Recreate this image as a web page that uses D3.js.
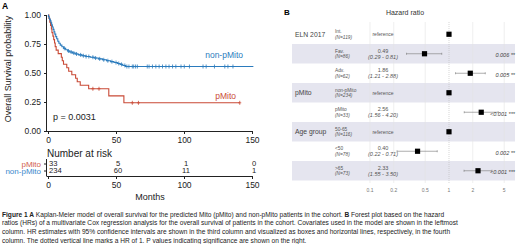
<!DOCTYPE html>
<html>
<head>
<meta charset="utf-8">
<script src="https://cdn.jsdelivr.net/npm/d3@7"></script>
<style>
body{margin:0;background:#fff;}
svg{display:block;font-family:Arial,"Liberation Sans",sans-serif;}
</style>
</head>
<body>
<script>
// Kaplan-Meier steps (months, survival)
const pMitoTime = [0, 0.7, 1.3, 1.9, 2.5, 2.9, 3.6, 4.2, 4.8, 5.3, 6.0, 7.5, 9.8, 10.5, 11.4, 13.8, 15.2, 17.5, 20.3, 21.5, 23.7, 29.9, 44.7, 55.8]
const pMitoSurv = [1, 0.970, 0.939, 0.909, 0.879, 0.848, 0.818, 0.788, 0.758, 0.727, 0.697, 0.667, 0.636, 0.606, 0.576, 0.545, 0.515, 0.485, 0.455, 0.424, 0.394, 0.364, 0.303, 0.243]
const pMitoCensor = [33, 37.5, 62, 66.5, 141]
const pMitoEnd = 141

const nonTime = [0, 0.3, 0.8, 1.2, 1.7, 2.2, 2.7, 3.2, 3.8, 4.4, 5.0, 5.7, 6.4, 7.2, 8.0, 9.0, 10.2, 11.5, 13, 14.5, 16, 18, 20, 22.5, 25, 28, 31, 34, 37, 40, 43, 46, 48.5, 51, 53, 55, 57]
const nonSurv = [1, 0.987, 0.974, 0.962, 0.949, 0.932, 0.915, 0.897, 0.876, 0.855, 0.835, 0.814, 0.795, 0.774, 0.756, 0.740, 0.726, 0.713, 0.700, 0.690, 0.681, 0.672, 0.664, 0.656, 0.649, 0.642, 0.636, 0.629, 0.622, 0.614, 0.606, 0.598, 0.590, 0.582, 0.574, 0.565, 0.556]
const nonCensor = [12, 15, 17, 19, 21, 24, 26, 28, 30, 33, 35, 38, 41, 44, 47, 50, 52, 54, 56.5, 58, 59.5, 62, 63, 64.4, 65.7, 73, 74.3, 76.8, 79.3, 81.7, 84.2, 86.7, 89, 91.6, 94, 97.8, 100.2, 104, 114, 116.3, 122.4, 130, 132.3, 136]
const nonEnd = 151

// number at risk
const riskTimes = [0, 50, 100, 150]
const riskPMito = [33, 5, 1, 0]
const riskNon = [234, 60, 11, 1]
const kmTicks = [0, 50, 100, 150]
const survTicks = [0, 0.25, 0.5, 0.75, 1]

// forest plot
const fVars = ['ELN 2017', '', '', 'pMito', '', 'Age group', '', '']
const fLevels = ['Int.', 'Fav.', 'Adv.', 'non-pMito', 'pMito', '50-65', '<50', '>65']
const fN = [119, 86, 62, 234, 33, 116, 78, 73]
const fHR = [1, 0.49, 1.86, 1, 2.56, 1, 0.40, 2.33]
const fLo = [null, 0.29, 1.21, null, 1.56, null, 0.22, 1.55]
const fHi = [null, 0.81, 2.88, null, 4.20, null, 0.71, 3.50]
const fP = ['', '0.006 **', '0.005 **', '', '<0.001 ***', '', '0.002 **', '<0.001 ***']
const hrTicks = [0.1, 0.2, 0.5, 1, 2, 5]

const caption = [
  [['Figure 1 A', true], [' Kaplan-Meier model of overall survival for the predicted Mito (pMito) and non-pMito patients in the cohort. ', false], ['B', true], [' Forest plot based on the hazard', false]],
  [['ratios (HRs) of a multivariate Cox regression analysis for the overall survival of patients in the cohort. Covariates used in the model are shown in the leftmost', false]],
  [['column. HR estimates with 95% confidence intervals are shown in the third column and visualized as boxes and horizontal lines, respectively, in the fourth', false]],
  [['column. The dotted vertical line marks a HR of 1. P values indicating significance are shown on the right.', false]]
]

window.addEventListener('load', () => {
  const blue = '#2b7bbd', red = '#c94a36'
  const svg = d3.select('body').append('svg')
    .attr('width', 520)
    .attr('height', 244)

  // ---------- panel A ----------
  const x = d3.scaleLinear().domain([0, 150]).range([48, 252])
  const y = d3.scaleLinear().domain([0, 1]).range([131, 15])

  svg.append('text').attr('x', 2).attr('y', 8.5)
    .attr('font-size', 8.5).attr('font-weight', 'bold').text('A')

  const yAx = svg.append('g')
    .attr('transform', 'translate(47,0)')
    .call(d3.axisLeft(y).tickValues(survTicks).tickFormat(d3.format('.2f')).tickSize(3).tickSizeOuter(0))
  const xAx = svg.append('g')
    .attr('transform', 'translate(0,131)')
    .call(d3.axisBottom(x).tickValues(kmTicks).tickSize(3).tickSizeOuter(0))
  ;[yAx, xAx].forEach(g => {
    g.selectAll('text').attr('font-size', 8.5).attr('fill', '#222').attr('font-family', null)
    g.selectAll('line,path').attr('stroke', '#222')
  })
  xAx.select('.domain').attr('d', 'M47,0.5H252')
  yAx.select('.domain').attr('d', 'M-0.5,15V131.5')

  svg.append('text')
    .attr('transform', 'translate(11,69) rotate(-90)')
    .attr('text-anchor', 'middle')
    .attr('font-size', 9).attr('fill', '#222')
    .text('Overall Survival probability')

  const stepLine = d3.line().x(d => x(d[0])).y(d => y(d[1])).curve(d3.curveStepAfter)
  const groups = [
    {time: pMitoTime, surv: pMitoSurv, cens: pMitoCensor, end: pMitoEnd, col: red},
    {time: nonTime, surv: nonSurv, cens: nonCensor, end: nonEnd, col: blue}
  ]
  groups.forEach(g => {
    const pts = g.time.map((t, i) => [t, g.surv[i]])
    pts.push([g.end, g.surv[g.surv.length - 1]])
    svg.append('path')
      .attr('d', stepLine(pts))
      .attr('fill', 'none').attr('stroke', g.col).attr('stroke-width', 1.1)
    const survAt = t => g.surv[d3.bisectRight(g.time, t) - 1]
    svg.append('g').selectAll('path').data(g.cens).join('path')
      .attr('d', t => `M${x(t) - 1.5},${y(survAt(t))}h3M${x(t)},${y(survAt(t)) - 2}v4`)
      .attr('stroke', g.col).attr('stroke-width', 0.8)
  })

  svg.append('text').attr('x', 243).attr('y', 58)
    .attr('text-anchor', 'end').attr('font-size', 8.5).attr('fill', blue).text('non-pMito')
  svg.append('text').attr('x', 236).attr('y', 99)
    .attr('text-anchor', 'end').attr('font-size', 8.5).attr('fill', red).text('pMito')
  svg.append('text').attr('x', 53).attr('y', 120)
    .attr('font-size', 9).attr('fill', '#222').text('p = 0.0031')

  // number at risk table
  svg.append('text').attr('x', 47).attr('y', 157)
    .attr('font-size', 10).attr('fill', '#222').text('Number at risk')
  const ry = d3.scalePoint().domain(['pMito', 'non-pMito']).range([156.5, 177.5]).padding(1)
  const ryAx = svg.append('g')
    .attr('transform', 'translate(47,0)')
    .call(d3.axisLeft(ry).tickSize(3).tickSizeOuter(0))
  ryAx.selectAll('text').attr('font-size', 8).attr('font-family', null)
    .attr('fill', d => d === 'pMito' ? '#d0604e' : '#3a88cc')
  ryAx.selectAll('line,path').attr('stroke', '#222')
  ryAx.select('.domain').attr('d', 'M-0.5,159V176.5')
  const rxAx = svg.append('g')
    .attr('transform', 'translate(0,176)')
    .call(d3.axisBottom(x).tickValues(kmTicks).tickSize(3).tickSizeOuter(0))
  rxAx.selectAll('text').attr('font-size', 8.5).attr('fill', '#222').attr('font-family', null)
  rxAx.selectAll('line,path').attr('stroke', '#222')
  rxAx.select('.domain').attr('d', 'M47,0.5H252')

  ;[['pMito', riskPMito], ['non-pMito', riskNon]].forEach(([k, vals]) => {
    svg.append('g').selectAll('text').data(vals).join('text')
      .attr('x', (v, i) => i === 0 ? x(riskTimes[i]) + 1 : x(riskTimes[i]) + 2)
      .attr('y', ry(k) + 2.8)
      .attr('text-anchor', (v, i) => i === 0 ? 'start' : 'middle')
      .attr('font-size', 7.6).attr('fill', '#222')
      .text(v => v)
  })
  svg.append('text').attr('x', 150).attr('y', 200)
    .attr('text-anchor', 'middle').attr('font-size', 9).attr('fill', '#222').text('Months')

  // ---------- panel B ----------
  svg.append('text').attr('x', 284).attr('y', 15)
    .attr('font-size', 8).attr('font-weight', 'bold').text('B')
  svg.append('text').attr('x', 405).attr('y', 14.5)
    .attr('text-anchor', 'middle').attr('font-size', 7).attr('fill', '#333').text('Hazard ratio')

  const rows = d3.range(fLevels.length)
  const fy = d3.scaleBand().domain(rows).range([24.5, 180.5])
  const fx = d3.scaleLog().domain([0.1, 5]).range([370, 504.2])

  svg.append('g').selectAll('rect').data(rows.filter(i => i % 2 === 1)).join('rect')
    .attr('x', 292).attr('width', 223)
    .attr('y', i => fy(i)).attr('height', fy.bandwidth())
    .attr('fill', '#e5e5ef')

  svg.append('g').selectAll('line').data(hrTicks).join('line')
    .attr('x1', d => fx(d)).attr('x2', d => fx(d))
    .attr('y1', 22).attr('y2', 183)
    .attr('stroke', d => d === 1 ? '#bbb' : '#e2e2e2')
    .attr('stroke-width', 0.6)
    .attr('stroke-dasharray', d => d === 1 ? '1,1' : null)

  svg.append('g').selectAll('text').data(hrTicks).join('text')
    .attr('x', d => fx(d)).attr('y', 192)
    .attr('text-anchor', 'middle').attr('font-size', 5).attr('fill', '#777')
    .text(d => d)

  const cy = i => fy(i) + fy.bandwidth() / 2
  svg.append('g').selectAll('text').data(rows.filter(i => fVars[i])).join('text')
    .attr('x', 295).attr('y', i => cy(i) + 2.3)
    .attr('font-size', 6.8).attr('font-weight', 'normal').attr('fill', '#444')
    .text(i => fVars[i])

  const lv = svg.append('g').selectAll('g').data(rows).join('g')
  lv.append('text').attr('x', 335).attr('y', i => cy(i) - 0.8)
    .attr('font-size', 4.8).attr('fill', '#555').text(i => fLevels[i])
  lv.append('text').attr('x', 335).attr('y', i => cy(i) + 4.6)
    .attr('font-size', 4.8).attr('font-style', 'italic').attr('fill', '#555').text(i => `(N=${fN[i]})`)

  const est = svg.append('g').selectAll('g').data(rows).join('g')
  est.filter(i => fLo[i] == null).append('text')
    .attr('x', 383).attr('y', i => cy(i) + 2)
    .attr('text-anchor', 'middle').attr('font-size', 5).attr('fill', '#555').text('reference')
  est.filter(i => fLo[i] != null).append('text')
    .attr('x', 383).attr('y', i => cy(i) - 0.8)
    .attr('text-anchor', 'middle').attr('font-size', 5.5).attr('fill', '#555')
    .text(i => fHR[i].toFixed(2))
  est.filter(i => fLo[i] != null).append('text')
    .attr('x', 383).attr('y', i => cy(i) + 5)
    .attr('text-anchor', 'middle').attr('font-size', 5.5).attr('font-style', 'italic').attr('fill', '#555')
    .text(i => `(${fLo[i].toFixed(2)} - ${fHi[i].toFixed(2)})`)

  const ci = svg.append('g').selectAll('g').data(rows.filter(i => fLo[i] != null)).join('g')
    .attr('stroke', '#777').attr('stroke-width', 0.6)
  ci.append('line')
    .attr('x1', i => fx(fLo[i])).attr('x2', i => fx(fHi[i]))
    .attr('y1', cy).attr('y2', cy)
  ci.append('line')
    .attr('x1', i => fx(fLo[i])).attr('x2', i => fx(fLo[i]))
    .attr('y1', i => cy(i) - 1).attr('y2', i => cy(i) + 1)
  ci.append('line')
    .attr('x1', i => fx(fHi[i])).attr('x2', i => fx(fHi[i]))
    .attr('y1', i => cy(i) - 1).attr('y2', i => cy(i) + 1)

  svg.append('g').selectAll('rect').data(rows).join('rect')
    .attr('x', i => fx(fHR[i]) - 2.6).attr('y', i => cy(i) - 2.6)
    .attr('width', 5.2).attr('height', 5.2).attr('fill', '#000')

  svg.append('g').selectAll('text').data(rows.filter(i => fP[i])).join('text')
    .attr('x', 515).attr('y', i => cy(i) + 3.5)
    .attr('text-anchor', 'end').attr('font-size', 5.5).attr('font-style', 'italic').attr('fill', '#444')
    .text(i => fP[i])

  // ---------- caption ----------
  const cap = svg.append('g').attr('font-size', 6.6).attr('fill', '#222')
  caption.forEach((line, li) => {
    const t = cap.append('text').attr('x', 2).attr('y', 216.5 + li * 8.7)
    line.forEach(([s, b]) => {
      t.append('tspan').attr('font-weight', b ? 'bold' : null).text(s)
    })
  })
})
</script>
</body>
</html>
